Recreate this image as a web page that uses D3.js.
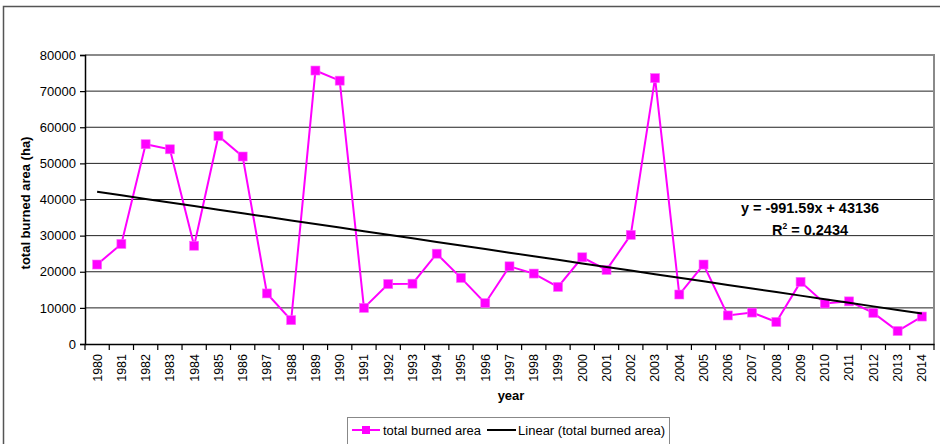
<!DOCTYPE html>
<html>
<head>
<meta charset="utf-8">
<script src="https://cdn.jsdelivr.net/npm/d3@7"></script>
<style>
  html, body { margin: 0; padding: 0; background: #fff; }
  svg { display: block; font-family: Arial, "Liberation Sans", sans-serif; }
</style>
</head>
<body>
<svg id="chart" width="940" height="444"></svg>
<script>
const years = ["1980","1981","1982","1983","1984","1985","1986","1987","1988","1989",
  "1990","1991","1992","1993","1994","1995","1996","1997","1998","1999",
  "2000","2001","2002","2003","2004","2005","2006","2007","2008","2009",
  "2010","2011","2012","2013","2014"];
const burnedArea = [22000, 27700, 55300, 53900, 27200, 57600, 51900, 14000, 6600, 75700,
  72900, 10000, 16600, 16700, 25000, 18300, 11300, 21500, 19500, 15800,
  24000, 20500, 30200, 73600, 13700, 22000, 7900, 8700, 6100, 17200,
  11200, 11800, 8600, 3600, 7600];
const yTicks = [0, 10000, 20000, 30000, 40000, 50000, 60000, 70000, 80000];
const trendSlope = -991.59;
const trendIntercept = 43136;
const equationText = "y = -991.59x + 43136";
const r2Value = "0.2434";
const seriesName = "total burned area";
const trendName = "Linear (total burned area)";
const xTitle = "year";
const yTitle = "total burned area (ha)";

const svg = d3.select("#chart");
const L = 85, R = 934, T = 55, B = 344;

// outer chart frame
svg.append("rect").attr("x", 3.5).attr("y", 6.5).attr("width", 960).attr("height", 460)
  .attr("fill", "none").attr("stroke", "#555").attr("stroke-width", 1.5);

const x = d3.scaleBand().domain(years).range([L, R]).padding(0);
const y = d3.scaleLinear().domain([0, 80000]).range([B, T]);
const cx = d => x(d) + x.bandwidth() / 2;

// gridlines
svg.append("g").selectAll("line").data(yTicks.filter(v => v > 0 && v < 80000)).join("line")
  .attr("x1", L).attr("x2", R).attr("y1", d => y(d)).attr("y2", d => y(d))
  .attr("stroke", "#222").attr("stroke-width", 1);

// plot area border (top and right)
svg.append("path").attr("d", `M${L},${T}H${R}V${B}`)
  .attr("fill", "none").attr("stroke", "#8a8a8a").attr("stroke-width", 2);

// y axis
const yAxis = d3.axisLeft(y).tickValues(yTicks).tickSize(5).tickPadding(4).tickFormat(d3.format("d"));
const gy = svg.append("g").attr("transform", `translate(${L},0)`).call(yAxis);
gy.select(".domain").attr("stroke", "#000").attr("stroke-width", 1.5);
gy.selectAll(".tick line").attr("stroke", "#000").attr("stroke-width", 1.2);
gy.selectAll(".tick text").attr("font-size", 13).attr("fill", "#000")
  .attr("font-family", "Arial, 'Liberation Sans', sans-serif");

// x axis: ticks between categories
const xAxis = d3.axisBottom(x).tickSize(0).tickPadding(0);
const gx = svg.append("g").attr("transform", `translate(0,${B})`).call(xAxis);
gx.select(".domain").attr("stroke", "#000").attr("stroke-width", 1.5);
gx.selectAll(".tick text").attr("font-size", 12.5).attr("fill", "#000")
  .attr("font-family", "Arial, 'Liberation Sans', sans-serif")
  .attr("text-anchor", "end").attr("dy", "0.35em")
  .attr("transform", "translate(0,10) rotate(-90)").attr("x", 0).attr("y", 0);
const boundaries = years.map(d => x(d)).concat([x(years[years.length - 1]) + x.bandwidth()]);
svg.append("g").selectAll("line").data(boundaries).join("line")
  .attr("x1", d => d).attr("x2", d => d).attr("y1", B).attr("y2", B + 6)
  .attr("stroke", "#000").attr("stroke-width", 1.2);

// axis titles
svg.append("text").attr("x", 511).attr("y", 400).attr("text-anchor", "middle")
  .attr("font-size", 13).attr("font-weight", "bold").text(xTitle);
svg.append("text").attr("transform", "translate(30,203) rotate(-90)").attr("text-anchor", "middle")
  .attr("font-size", 13).attr("font-weight", "bold").text(yTitle);

// data series
const line = d3.line().x((d, i) => cx(years[i])).y(d => y(d));
svg.append("path").datum(burnedArea).attr("d", line)
  .attr("fill", "none").attr("stroke", "#ff00ff").attr("stroke-width", 2);
svg.append("g").selectAll("rect").data(burnedArea).join("rect")
  .attr("x", (d, i) => cx(years[i]) - 4.5).attr("y", d => y(d) - 4.5)
  .attr("width", 9).attr("height", 9).attr("fill", "#ff00ff")
  .attr("stroke", "#ff66ff").attr("stroke-width", 0.6);

// trend line
const trendVals = years.map((d, i) => trendIntercept + trendSlope * (i + 1));
svg.append("path").datum(trendVals).attr("d", line)
  .attr("fill", "none").attr("stroke", "#000").attr("stroke-width", 2);

// equation
svg.append("text").attr("x", 810).attr("y", 213).attr("text-anchor", "middle")
  .attr("font-size", 14).attr("font-weight", "bold")
  .attr("textLength", 138).attr("lengthAdjust", "spacingAndGlyphs").text(equationText);
const r2 = svg.append("text").attr("x", 810).attr("y", 235).attr("text-anchor", "middle")
  .attr("font-size", 14.5).attr("font-weight", "bold");
r2.append("tspan").text("R");
r2.append("tspan").attr("dy", -6).attr("font-size", 8.5).text("2");
r2.append("tspan").attr("dy", 6).text(" = " + r2Value);

// legend
const lg = svg.append("g");
lg.append("rect").attr("x", 347.5).attr("y", 417.5).attr("width", 322).attr("height", 40)
  .attr("fill", "#fff").attr("stroke", "#888").attr("stroke-width", 1);
lg.append("line").attr("x1", 352).attr("x2", 380).attr("y1", 430).attr("y2", 430)
  .attr("stroke", "#ff00ff").attr("stroke-width", 2);
lg.append("rect").attr("x", 362).attr("y", 426).attr("width", 8).attr("height", 8).attr("fill", "#ff00ff");
lg.append("text").attr("x", 383).attr("y", 434.5).attr("font-size", 12.5)
  .attr("textLength", 98).attr("lengthAdjust", "spacingAndGlyphs").text(seriesName);
lg.append("line").attr("x1", 487).attr("x2", 516).attr("y1", 430).attr("y2", 430)
  .attr("stroke", "#000").attr("stroke-width", 2);
lg.append("text").attr("x", 518).attr("y", 434.5).attr("font-size", 12.5)
  .attr("textLength", 147).attr("lengthAdjust", "spacingAndGlyphs").text(trendName);
</script>
</body>
</html>
